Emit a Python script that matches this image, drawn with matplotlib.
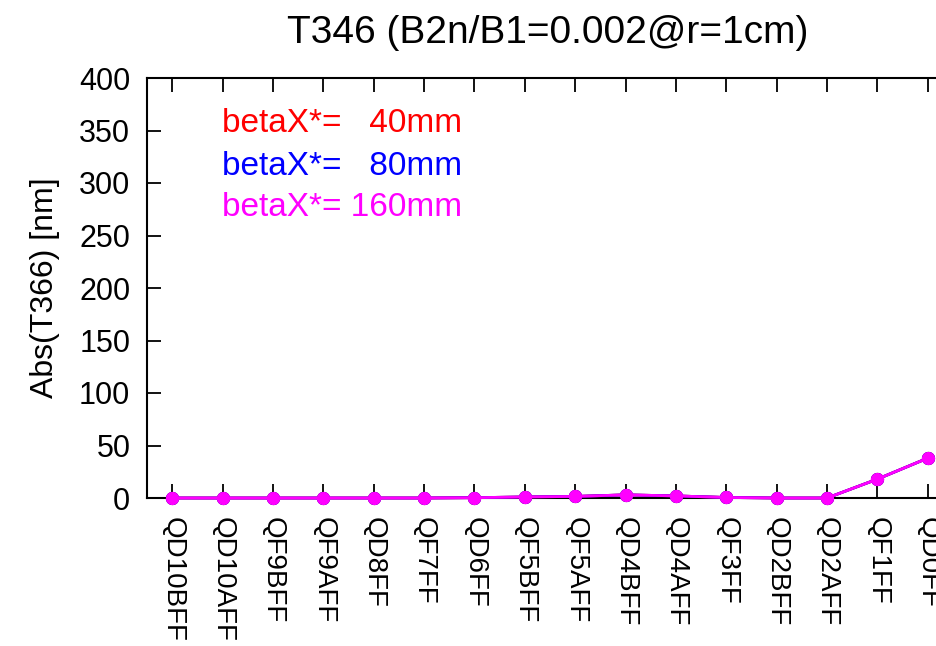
import matplotlib
matplotlib.use("Agg")
import matplotlib.pyplot as plt

plt.rcParams['font.family'] = ['Liberation Sans', 'DejaVu Sans']

magnets = ["QD10BFF", "QD10AFF", "QF9BFF", "QF9AFF", "QD8FF", "QF7FF", "QD6FF",
           "QF5BFF", "QF5AFF", "QD4BFF", "QD4AFF", "QF3FF", "QD2BFF", "QD2AFF",
           "QF1FF", "QD0FF"]

t366_40mm = [0, 0, 0, 0, 0, 0, 0.3, 1.0, 1.5, 3.0, 2.0, 0.5, 0, 0, 18, 38]
t366_80mm = [0, 0, 0, 0, 0, 0, 0.3, 1.0, 1.5, 3.0, 2.0, 0.5, 0, 0, 18, 38]
t366_160mm = [0, 0, 0, 0, 0, 0, 0.3, 1.0, 1.5, 3.0, 2.0, 0.5, 0, 0, 18, 38]

series = [
    ("betaX*=   40mm", t366_40mm, "#ff0000"),
    ("betaX*=   80mm", t366_80mm, "#0000ff"),
    ("betaX*= 160mm", t366_160mm, "#ff00ff"),
]

W, H = 937, 646
fig = plt.figure(figsize=(W / 100, H / 100), dpi=100)
ax = fig.add_axes([147 / W, 148 / H, (953 - 147) / W, 420 / H])

x = list(range(len(magnets)))
for label, vals, color in series:
    ax.plot(x, vals, color=color, lw=2, marker="o", ms=8.5, clip_on=False, zorder=3)

ax.set_xlim(-0.5, len(magnets) - 0.5)
ax.set_ylim(0, 400)
ax.set_yticks(range(0, 401, 50))
ax.set_xticks(x)
ax.set_xticklabels(magnets, rotation=-90, fontsize=20, va="top", ha="center")
ax.tick_params(axis="y", labelsize=22, direction="in", length=10, width=1.3,
               right=True, pad=12)
ax.tick_params(axis="x", direction="in", length=10, width=1.3, top=True, pad=14)
for s in ax.spines.values():
    s.set_linewidth(1.5)

ax.set_ylabel("Abs(T366) [nm]", fontsize=23, labelpad=14)
fig.text(548 / W, 1 - 33 / H, "T346 (B2n/B1=0.002@r=1cm)", fontsize=28,
         ha="center", va="center")

for i, (label, vals, color) in enumerate(series):
    fig.text(222 / W, 1 - (124 + i * 42) / H, label, color=color, fontsize=24,
             ha="left", va="center")

fig.savefig("out.png", dpi=100)
